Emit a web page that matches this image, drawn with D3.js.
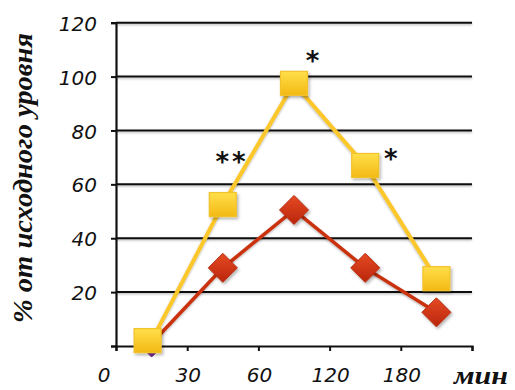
<!DOCTYPE html>
<html>
<head>
<meta charset="utf-8">
<script src="https://cdn.jsdelivr.net/npm/d3@7/dist/d3.min.js"></script>
<style>
  html, body { margin: 0; padding: 0; background: #fff; }
  svg { display: block; }
</style>
</head>
<body>
<svg id="chart" width="515" height="390"></svg>
<script>
// ---- data ----
const categories = ["t0", "t30", "t60", "t120", "t180"];
const xTickLabels = ["0", "30", "60", "120", "180"];
const yellowValues = [2, 52.5, 97.5, 67, 25];
const redValues = [1, 29, 50.5, 29, 12.5];
const purpleValues = [0];
const yTicks = [20, 40, 60, 80, 100, 120];
const annotTexts = ["**", "*", "*"];
const annotCats = [1.13, 2.28, 3.38];
const annotVals = [71, 108.5, 72];
const yTitle = "% от исходного уровня";
const xTitle = "мин";

// ---- layout ----
const svg = d3.select("#chart");
const pLeft = 116, pRight = 472, pTop = 22.7, pBottom = 346;

const x = d3.scaleBand().domain(categories).range([pLeft, pRight]).padding(0);
const xc = d => x(d) + x.bandwidth() / 2;
const xIdx = d3.scaleLinear().domain([0, categories.length]).range([pLeft, pRight]);
const y = d3.scaleLinear().domain([0, 120]).range([pBottom, pTop]);

const defs = svg.append("defs");
const gy = defs.append("linearGradient").attr("id", "gy").attr("x1", 0).attr("y1", 0).attr("x2", 0).attr("y2", 1);
gy.append("stop").attr("offset", "0%").attr("stop-color", "#FFDF4A");
gy.append("stop").attr("offset", "100%").attr("stop-color", "#F3B914");
const gr = defs.append("linearGradient").attr("id", "gr").attr("x1", 0).attr("y1", 0).attr("x2", 0).attr("y2", 1);
gr.append("stop").attr("offset", "0%").attr("stop-color", "#E54A24");
gr.append("stop").attr("offset", "100%").attr("stop-color", "#B9260B");
const sh = defs.append("filter").attr("id", "sh").attr("x", "-30%").attr("y", "-30%").attr("width", "170%").attr("height", "170%");
sh.append("feDropShadow").attr("dx", 1.5).attr("dy", 2).attr("stdDeviation", 1.5).attr("flood-color", "#000").attr("flood-opacity", 0.3);
const shl = defs.append("filter").attr("id", "shl").attr("filterUnits", "userSpaceOnUse")
  .attr("x", 0).attr("y", 0).attr("width", 515).attr("height", 390);
shl.append("feDropShadow").attr("dx", 0).attr("dy", 1.2).attr("stdDeviation", 0.8).attr("flood-color", "#000").attr("flood-opacity", 0.3);

// gridlines
svg.append("g").selectAll("line").data(yTicks).join("line")
  .attr("x1", pLeft).attr("x2", pRight)
  .attr("y1", d => y(d)).attr("y2", d => y(d))
  .attr("stroke", "#111").attr("stroke-width", 2)
  .attr("filter", "url(#shl)");

// y axis
const yAxis = svg.append("g").attr("transform", `translate(${pLeft},0)`)
  .call(d3.axisLeft(y).tickValues([0].concat(yTicks)).tickSize(5).tickFormat(d => d === 0 ? "" : d));
yAxis.select(".domain").attr("stroke", "#111").attr("stroke-width", 2.2);
yAxis.selectAll(".tick line").attr("stroke", "#111").attr("stroke-width", 2);
yAxis.selectAll(".tick text")
  .attr("x", -19).attr("dy", "0.38em")
  .style("font-family", "'DejaVu Sans', sans-serif").style("font-style", "italic")
  .style("font-size", "20px").attr("fill", "#111");

// x axis
const xAxis = svg.append("g").attr("transform", `translate(0,${pBottom})`)
  .call(d3.axisBottom(xIdx).tickValues(d3.range(categories.length + 1)).tickSize(5).tickFormat(""));
xAxis.select(".domain").attr("stroke", "#111").attr("stroke-width", 2.2);
xAxis.selectAll(".tick line").attr("stroke", "#111").attr("stroke-width", 2);
svg.append("g").selectAll("text").data(xTickLabels).join("text")
  .attr("x", (d, i) => xIdx(i) + (i === 0 ? -12 : 1))
  .attr("y", 382)
  .attr("text-anchor", "middle")
  .style("font-family", "'DejaVu Sans', sans-serif").style("font-style", "italic")
  .style("font-size", "20px").attr("fill", "#111")
  .text(d => d);

// lines
const line = d3.line().x((d, i) => xc(categories[i])).y(d => y(d));
svg.append("path").datum(redValues).attr("d", line)
  .attr("fill", "none").attr("stroke", "#C9310F").attr("stroke-width", 3.5)
  .attr("filter", "url(#shl)");

// red diamonds (first hidden below yellow square)
const dsz = 14.5;
svg.append("g").selectAll("path").data(redValues.slice(1)).join("path")
  .attr("d", `M0,${-dsz} L${dsz},0 L0,${dsz} L${-dsz},0 Z`)
  .attr("transform", (d, i) => `translate(${xc(categories[i + 1])},${y(d)})`)
  .attr("fill", "url(#gr)").attr("stroke", "#B92A0E").attr("stroke-width", 1)
  .attr("filter", "url(#sh)");

// purple marker
const psz = 10;
svg.append("g").selectAll("path").data(purpleValues).join("path")
  .attr("d", `M0,${-psz} L${psz},0 L0,${psz} L${-psz},0 Z`)
  .attr("transform", (d, i) => `translate(${xc(categories[i])},${y(d) + 1})`)
  .attr("fill", "#7A2D9A").attr("stroke", "#6A2088").attr("stroke-width", 1);

svg.append("path").datum(yellowValues).attr("d", line)
  .attr("fill", "none").attr("stroke", "#FCC72A").attr("stroke-width", 4)
  .attr("filter", "url(#shl)");

// yellow squares
const sw = 27, shh = 24;
svg.append("g").selectAll("rect").data(yellowValues).join("rect")
  .attr("x", (d, i) => xc(categories[i]) - sw / 2 - (i === 0 ? 4 : 0))
  .attr("y", d => y(d) - shh / 2)
  .attr("width", sw).attr("height", shh)
  .attr("fill", "url(#gy)").attr("stroke", "#F2C22C").attr("stroke-width", 1.2)
  .attr("filter", "url(#sh)");

// annotations
svg.append("g").selectAll("text").data(annotTexts).join("text")
  .attr("x", (d, i) => xIdx(annotCats[i] + 0.5))
  .attr("y", (d, i) => y(annotVals[i]))
  .attr("text-anchor", "middle").attr("dominant-baseline", "central")
  .style("font-family", "'DejaVu Sans', sans-serif").style("font-weight", "bold")
  .style("font-size", "26px").style("letter-spacing", "3px").attr("fill", "#111")
  .attr("dy", "0.28em")
  .text(d => d);

// y title
svg.append("text")
  .attr("transform", "translate(32,178) rotate(-90)")
  .attr("text-anchor", "middle")
  .style("font-family", "'Liberation Serif', 'DejaVu Serif', serif")
  .style("font-weight", "bold").style("font-style", "italic")
  .style("font-size", "27px").attr("fill", "#111")
  .attr("textLength", 290).attr("lengthAdjust", "spacingAndGlyphs")
  .text(yTitle);

// x title
svg.append("text")
  .attr("x", 454).attr("y", 384)
  .style("font-family", "'Liberation Serif', 'DejaVu Serif', serif")
  .style("font-weight", "bold").style("font-style", "italic")
  .style("font-size", "26px").attr("fill", "#111")
  .attr("textLength", 54).attr("lengthAdjust", "spacingAndGlyphs")
  .text(xTitle);
</script>
</body>
</html>
